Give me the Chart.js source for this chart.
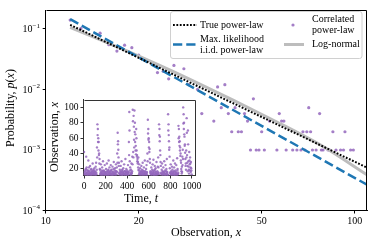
<!DOCTYPE html>
<html>
<head>
<meta charset="utf-8">
<script src="https://cdn.jsdelivr.net/npm/chart.js@4.4.1/dist/chart.umd.min.js"></script>
<style>
  html, body { margin: 0; padding: 0; background: #fff; }
  #wrap { position: relative; width: 374px; height: 247px; }
  #main { position: absolute; left: 0; top: 0; }
  #inset { position: absolute; left: 44px; top: 92px; }
</style>
</head>
<body>
<div id="wrap">
  <canvas id="main" width="374" height="247"></canvas>
  <canvas id="inset" width="160" height="116"></canvas>
</div>
<script>
// main plot: observed value x and how many times it was seen (out of N)
const N = 1000;
const obsX = [12, 13, 15, 16, 17, 18, 19, 20, 23, 24, 25, 26, 28, 29, 31, 32, 35, 36, 37, 38,
  39, 40, 41, 42, 43, 44, 45, 46, 47, 48, 49, 50, 51, 53, 56, 57, 58, 59, 60, 63,
  65, 67, 68, 69, 70, 71, 72, 73, 75, 77, 78, 79, 82, 83, 85, 87, 90, 92, 93, 97, 99];
const obsCount = [140, 102, 85, 55, 43, 54, 49, 37, 19, 20, 15, 25, 22, 12, 10, 4, 3, 11, 5, 12,
  4, 2, 5, 2, 2, 4, 3, 1, 7, 1, 1, 2, 1, 3, 1, 4, 3, 3, 1, 1,
  1, 1, 2, 1, 2, 5, 2, 1, 1, 4, 1, 1, 1, 1, 2, 1, 1, 1, 2, 1, 1];

// fitted curves
const truePlX = [12, 109.6];
const truePlY = [0.117, 5.1e-4];
const mlePlX = [12, 109.6];
const mlePlY = [0.145, 2.67e-4];
const logNormX = [12, 18.3, 29.3, 56, 79, 109.6];
const logNormY = [0.1066, 0.0433, 0.0147, 0.0029, 0.00114, 3.88e-4];

const xTicks = [10, 20, 50, 100];
const yTicks = [1e-4, 1e-3, 1e-2, 1e-1];

// inset: the time series, read in two interleaved passes
// insetA at t = 0, 4, 8, ...   insetB at t = 2, 6, 10, ...
const tStep = 4;
const insetA = [
  42, 16, 13, 19, 14, 36, 22, 15, 12, 18, 31, 14, 17, 13, 24, 15, 12, 20, 16, 14, 27, 13, 19, 15, 21,
  17, 14, 23, 28, 13, 48, 78, 72, 60, 55, 40, 33, 19, 14, 26, 15, 12, 22, 17, 30, 14, 18, 13, 25, 16,
  14, 20, 13, 27, 16, 12, 18, 31, 15, 22, 13, 17, 25, 14, 19, 12, 23, 16, 14, 29, 13, 18, 21, 15, 26,
  17, 22, 40, 67, 56, 35, 28, 14, 19, 13, 24, 16, 30, 12, 18, 15, 21, 14, 26, 13, 17, 33, 15, 20, 12,
  18, 14, 25, 16, 55, 94, 30, 22, 13, 19, 27, 15, 36, 97, 42, 89, 58, 96, 80, 65, 50, 72, 44, 38, 33,
  29, 35, 18, 26, 14, 21, 16, 13, 24, 19, 15, 28, 12, 17, 22, 14, 31, 16, 13, 20, 25, 15, 40, 84, 72,
  60, 55, 46, 28, 17, 14, 22, 13, 19, 26, 15, 32, 18, 12, 24, 16, 21, 14, 29, 13, 17, 23, 35, 15, 78,
  72, 62, 38, 24, 14, 19, 27, 13, 16, 22, 15, 30, 12, 18, 25, 14, 20, 33, 16, 13, 91, 78, 56, 48, 21,
  15, 26, 17, 13, 23, 19, 14, 31, 16, 22, 12, 27, 18, 15, 25, 13, 34, 20, 14, 76, 72, 62, 56, 48, 40,
  28, 17, 23, 36, 45, 100, 91, 80, 62, 52, 33, 27, 44, 86, 38, 24, 70, 30, 19, 42, 26, 35, 22, 29, 18
];
const insetB = [
  14, 13, 17, 12, 20, 15, 13, 18, 14, 12, 16, 22, 13, 15, 12, 19, 14, 13, 17, 12, 15, 18, 13, 16, 12,
  13, 16, 12, 15, 19, 35, 64, 55, 44, 38, 27, 20, 13, 16, 12, 14, 18, 13, 15, 12, 17, 13, 16, 12, 14,
  12, 15, 13, 17, 12, 14, 19, 13, 16, 12, 15, 13, 18, 12, 14, 16, 12, 13, 20, 15, 12, 14, 13, 17, 12,
  13, 16, 28, 52, 45, 24, 15, 12, 14, 17, 13, 15, 12, 19, 13, 16, 12, 14, 13, 17, 12, 15, 13, 16, 14,
  12, 16, 13, 15, 38, 70, 18, 13, 15, 12, 14, 17, 26, 82, 35, 75, 48, 68, 55, 44, 39, 60, 36, 30, 27,
  22, 19, 13, 15, 12, 14, 17, 13, 12, 16, 13, 18, 14, 12, 15, 13, 17, 12, 14, 13, 16, 12, 30, 66, 58,
  48, 42, 33, 15, 12, 16, 13, 14, 12, 17, 13, 15, 12, 14, 19, 12, 13, 16, 12, 14, 13, 15, 22, 13, 64,
  56, 44, 29, 15, 12, 14, 13, 17, 12, 15, 13, 16, 14, 12, 13, 17, 12, 15, 13, 12, 70, 64, 45, 36, 15,
  12, 14, 13, 16, 12, 15, 13, 12, 17, 14, 13, 12, 16, 13, 14, 12, 18, 13, 15, 60, 55, 50, 44, 37, 31,
  20, 14, 16, 25, 33, 79, 72, 65, 50, 41, 24, 19, 35, 67, 28, 17, 52, 23, 14, 31, 18, 27, 16, 21, 13
];
const insetXTicks = [0, 200, 400, 600, 800, 1000];
const insetYTicks = [20, 40, 60, 80, 100];

const SERIF = '"Liberation Serif", "DejaVu Serif", serif';
const PURPLE = "rgba(148,103,189,0.85)";
const BLUE = "#1f77b4";
const GREY = "#bdbdbd";

function font(size, italic) {
  return (italic ? "italic " : "") + size + "px " + SERIF;
}

// draw text made of plain and italic pieces, centred or left aligned
function drawParts(ctx, parts, x, y, size, align) {
  const widths = parts.map(([t, it]) => {
    ctx.font = font(size, it);
    return ctx.measureText(t).width;
  });
  const total = widths.reduce((a, b) => a + b, 0);
  let cx = align === "center" ? x - total / 2 : x;
  ctx.textAlign = "left";
  ctx.textBaseline = "middle";
  parts.forEach(([t, it], i) => {
    ctx.font = font(size, it);
    ctx.fillText(t, cx, y);
    cx += widths[i];
  });
}

function drawRotated(ctx, parts, x, y, size) {
  ctx.save();
  ctx.translate(x, y);
  ctx.rotate(-Math.PI / 2);
  drawParts(ctx, parts, 0, 0, size, "center");
  ctx.restore();
}

function roundRect(ctx, x, y, w, h, r) {
  ctx.beginPath();
  ctx.moveTo(x + r, y);
  ctx.lineTo(x + w - r, y);
  ctx.arcTo(x + w, y, x + w, y + r, r);
  ctx.lineTo(x + w, y + h - r);
  ctx.arcTo(x + w, y + h, x + w - r, y + h, r);
  ctx.lineTo(x + r, y + h);
  ctx.arcTo(x, y + h, x, y + h - r, r);
  ctx.lineTo(x, y + r);
  ctx.arcTo(x, y, x + r, y, r);
  ctx.closePath();
}

function setTicks(values) {
  return scale => { scale.ticks = values.map(v => ({ value: v })); };
}

const framePlugin = {
  id: "frame",
  beforeDraw(chart, args, opts) {
    const { ctx, chartArea: a } = chart;
    ctx.save();
    ctx.fillStyle = "#fff";
    if (opts.whole) ctx.fillRect(0, 0, chart.width, chart.height);
    else ctx.fillRect(a.left, a.top, a.right - a.left, a.bottom - a.top);
    ctx.restore();
  },
  afterDraw(chart, args, opts) {
    const { ctx, chartArea: a } = chart;
    ctx.save();
    ctx.strokeStyle = opts.color || "#000";
    ctx.lineWidth = 1;
    ctx.beginPath();
    ctx.moveTo(Math.round(a.left) + 0.5, Math.round(a.top) + 0.5);
    ctx.lineTo(Math.round(a.right) - 0.5, Math.round(a.top) + 0.5);
    ctx.lineTo(Math.round(a.right) - 0.5, Math.round(a.bottom) - 0.5);
    ctx.stroke();
    ctx.restore();
  }
};

const mainText = {
  id: "mainText",
  afterDraw(chart) {
    const ctx = chart.ctx;
    const ys = chart.scales.y;
    ctx.save();
    ctx.fillStyle = "#000";
    // y tick labels 10^k
    yTicks.forEach(v => {
      const py = ys.getPixelForValue(v);
      const sup = "\u2212" + Math.round(-Math.log10(v));
      ctx.font = font(7);
      const sw = ctx.measureText(sup).width;
      ctx.textAlign = "right";
      ctx.textBaseline = "middle";
      ctx.fillText(sup, 40, py - 3);
      ctx.font = font(10);
      ctx.fillText("10", 40 - sw, py + 0.5);
    });
    drawRotated(ctx, [["Probability, ", false], ["p", true], ["(", false], ["x", true], [")", false]], 10.5, 108, 12);
    drawParts(ctx, [["Observation, ", false], ["x", true]], 206, 233, 12, "center");

    // legend
    roundRect(ctx, 170.5, 11.5, 191.5, 47, 2.5);
    ctx.fillStyle = "rgba(255,255,255,0.8)";
    ctx.fill();
    ctx.strokeStyle = "#d0d0d0";
    ctx.lineWidth = 1;
    ctx.stroke();

    ctx.lineWidth = 2;
    ctx.strokeStyle = "#000";
    ctx.setLineDash([1.8, 1.6]);
    ctx.beginPath(); ctx.moveTo(173, 25); ctx.lineTo(197, 25); ctx.stroke();
    ctx.lineWidth = 2.5;
    ctx.strokeStyle = BLUE;
    ctx.setLineDash([9.25, 4]);
    ctx.beginPath(); ctx.moveTo(173, 44.5); ctx.lineTo(197, 44.5); ctx.stroke();
    ctx.setLineDash([]);
    ctx.lineWidth = 3;
    ctx.strokeStyle = GREY;
    ctx.beginPath(); ctx.moveTo(284, 44.5); ctx.lineTo(304, 44.5); ctx.stroke();
    ctx.fillStyle = PURPLE;
    ctx.beginPath(); ctx.arc(293, 25, 1.6, 0, Math.PI * 2); ctx.fill();

    ctx.fillStyle = "#000";
    drawParts(ctx, [["True power-law", false]], 200, 25, 10, "left");
    drawParts(ctx, [["Max. likelihood", false]], 200, 39, 10, "left");
    drawParts(ctx, [["i.i.d. power-law", false]], 200, 50, 10, "left");
    drawParts(ctx, [["Correlated", false]], 312, 19.5, 10, "left");
    drawParts(ctx, [["power-law", false]], 312, 30.5, 10, "left");
    drawParts(ctx, [["Log-normal", false]], 312, 44.5, 10, "left");
    ctx.restore();
  }
};

const insetText = {
  id: "insetText",
  afterDraw(chart) {
    const ctx = chart.ctx;
    ctx.save();
    ctx.fillStyle = "#000";
    drawParts(ctx, [["Time, ", false], ["t", true]], 97, 107, 12, "center");
    drawRotated(ctx, [["Observation, ", false], ["x", true]], 10.5, 45, 12);
    ctx.restore();
  }
};

function lineSet(xs, ys, color, width, dash, order) {
  return {
    type: "line",
    data: xs.map((x, i) => ({ x, y: ys[i] })),
    borderColor: color,
    borderWidth: width,
    borderDash: dash,
    pointRadius: 0,
    fill: false,
    clip: 0,
    order
  };
}

new Chart(document.getElementById("main"), {
  type: "scatter",
  data: {
    datasets: [
      lineSet(truePlX, truePlY, "#000", 2, [1.8, 1.6], 1),
      lineSet(mlePlX, mlePlY, BLUE, 2.5, [9.25, 4], 2),
      Object.assign(lineSet(logNormX, logNormY, GREY, 3, [], 3), { cubicInterpolationMode: "monotone" }),
      {
        data: obsX.map((x, i) => ({ x, y: obsCount[i] / N })),
        backgroundColor: PURPLE,
        borderWidth: 0,
        pointRadius: 1.6,
        order: 4
      }
    ]
  },
  options: {
    responsive: false,
    animation: false,
    layout: { padding: { left: 0, right: 7, top: 6, bottom: 0 } },
    plugins: { legend: { display: false }, tooltip: { enabled: false }, frame: { whole: true } },
    scales: {
      x: {
        type: "logarithmic",
        min: 10,
        max: 109.6,
        afterBuildTicks: setTicks(xTicks),
        afterFit: s => { s.height = 36.5; },
        grid: { drawOnChartArea: false, tickLength: 3, color: "#000" },
        border: { color: "#000" },
        ticks: { color: "#000", font: { family: SERIF, size: 10 }, padding: 2, maxRotation: 0, autoSkip: false, callback: v => String(v) }
      },
      y: {
        type: "logarithmic",
        min: 1e-4,
        max: 0.204,
        afterBuildTicks: setTicks(yTicks),
        afterFit: s => { s.width = 45.7; },
        grid: { drawOnChartArea: false, tickLength: 3, color: "#000" },
        border: { color: "#000" },
        ticks: { callback: () => "" }
      }
    }
  },
  plugins: [framePlugin, mainText]
});

const insetPoints = insetA.map((v, i) => ({ x: i * tStep, y: v }))
  .concat(insetB.map((v, i) => ({ x: i * tStep + tStep / 2, y: v })));

new Chart(document.getElementById("inset"), {
  type: "scatter",
  data: {
    datasets: [{
      data: insetPoints,
      backgroundColor: PURPLE,
      borderWidth: 0,
      pointRadius: 1.2
    }]
  },
  options: {
    responsive: false,
    animation: false,
    layout: { padding: { left: 0, right: 5.5, top: 6.5, bottom: 0 } },
    plugins: { legend: { display: false }, tooltip: { enabled: false }, frame: { color: "#333" } },
    scales: {
      x: {
        type: "linear",
        min: -5,
        max: 1035,
        afterBuildTicks: setTicks(insetXTicks),
        afterFit: s => { s.height = 32.5; },
        grid: { drawOnChartArea: false, tickLength: 3, color: "#333" },
        border: { color: "#333" },
        ticks: { color: "#000", font: { family: SERIF, size: 9.5 }, padding: 2.5, maxRotation: 0, autoSkip: false, callback: v => String(v) }
      },
      y: {
        type: "linear",
        min: 11.5,
        max: 110,
        afterBuildTicks: setTicks(insetYTicks),
        afterFit: s => { s.width = 39.5; },
        grid: { drawOnChartArea: false, tickLength: 3, color: "#333" },
        border: { color: "#333" },
        ticks: { color: "#000", font: { family: SERIF, size: 9.5 }, padding: 2 }
      }
    }
  },
  plugins: [framePlugin, insetText]
});
</script>
</body>
</html>
